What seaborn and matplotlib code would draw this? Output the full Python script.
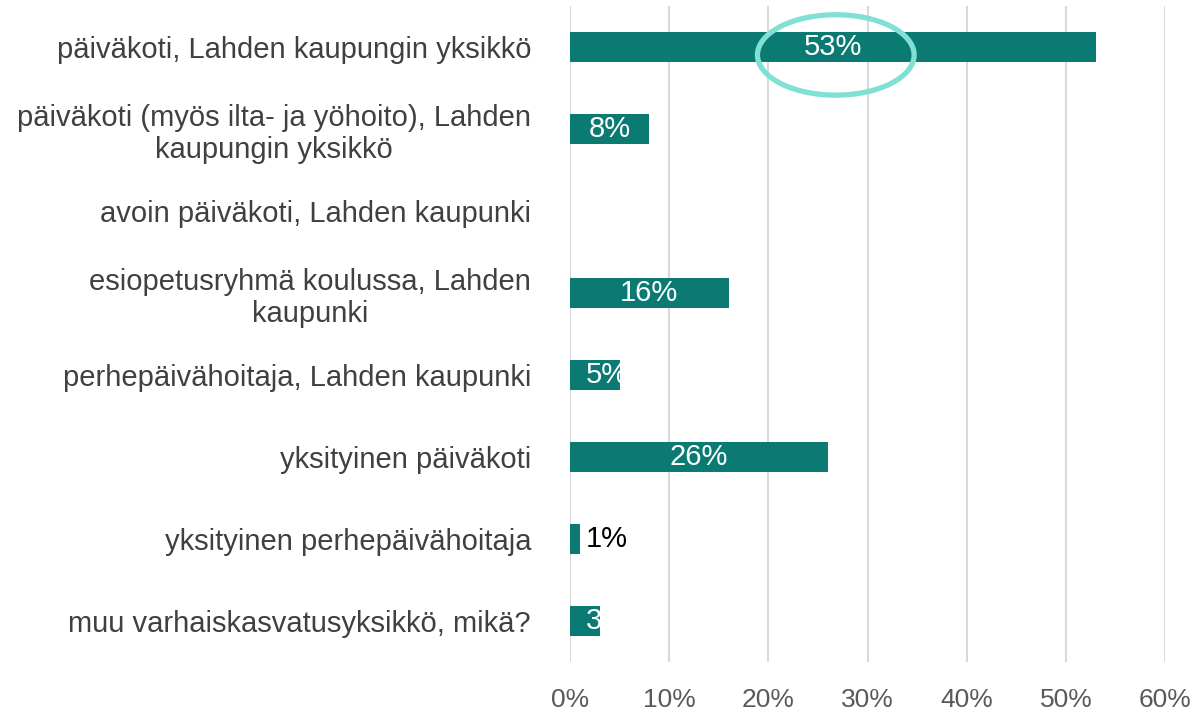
import matplotlib
matplotlib.use("Agg")
import matplotlib.pyplot as plt
import seaborn as sns
import pandas as pd
from matplotlib.patches import Ellipse

# ==========================================
# Data
# ==========================================

categories = [
    "päiväkoti, Lahden kaupungin yksikkö",
    "päiväkoti (myös ilta- ja yöhoito), Lahden\nkaupungin yksikkö",
    "avoin päiväkoti, Lahden kaupunki",
    "esiopetusryhmä koulussa, Lahden\nkaupunki",
    "perhepäivähoitaja, Lahden kaupunki",
    "yksityinen päiväkoti",
    "yksityinen perhepäivähoitaja",
    "muu varhaiskasvatusyksikkö, mikä?",
]
values = [53, 8, 0, 16, 5, 26, 1, 3]
xticks = [0, 10, 20, 30, 40, 50, 60]

df = pd.DataFrame({"category": categories, "value": values})

bar_color = "#0b7a72"

# ==========================================
# Plot
# ==========================================

sns.set_style("white")
plt.rcParams["font.family"] = ["Liberation Sans", "DejaVu Sans"]

fig = plt.figure(figsize=(11.98, 7.15), dpi=100)
ax = fig.add_axes([0.4758, 0.074, 0.4967, 0.918])

sns.barplot(
    data=df,
    x="value",
    y="category",
    orient="h",
    color=bar_color,
    width=0.36,
    saturation=1,
    linewidth=0,
    ax=ax,
)

ax.set_xlim(0, 60)
ax.set_ylim(7.5, -0.5)
ax.set_xticks(xticks)
ax.set_xticklabels([f"{t}%" for t in xticks], fontsize=19, color="#595959")
ax.tick_params(axis="x", length=0, pad=19)
ax.tick_params(axis="y", length=0, pad=28, labelsize=21, labelcolor="#404040")
for lbl in ax.get_yticklabels():
    lbl.set_multialignment("center")
    lbl.set_linespacing(1.2)

ax.set_xlabel("")
ax.set_ylabel("")
ax.grid(axis="x", color="#d9d9d9", linewidth=1.5)
ax.set_axisbelow(True)
sns.despine(ax=ax, left=True, bottom=True)

# Data labels
for bar, v in zip(ax.patches, values):
    if v == 0:
        continue
    yc = bar.get_y() + bar.get_height() / 2
    if v < 2:
        ax.text(v + 0.6, yc, f"{v}%", va="center", ha="left",
                fontsize=21, color="black")
    elif v <= 5:
        # label wider than the bar: Excel-like left start, clipped by the bar
        t = ax.text(1.6, yc, f"{v}%", va="center", ha="left",
                    fontsize=21, color="white")
        t.set_clip_path(bar)
    else:
        ax.text(v / 2, yc, f"{v}%", va="center", ha="center",
                fontsize=21, color="white")

# Highlight ellipse
ell = Ellipse((26.8, 0.1), 15.8, 0.98, fill=False,
              edgecolor="#7fe0d3", linewidth=3.8, clip_on=False)
ax.add_patch(ell)

plt.savefig("out.png", dpi=100)
